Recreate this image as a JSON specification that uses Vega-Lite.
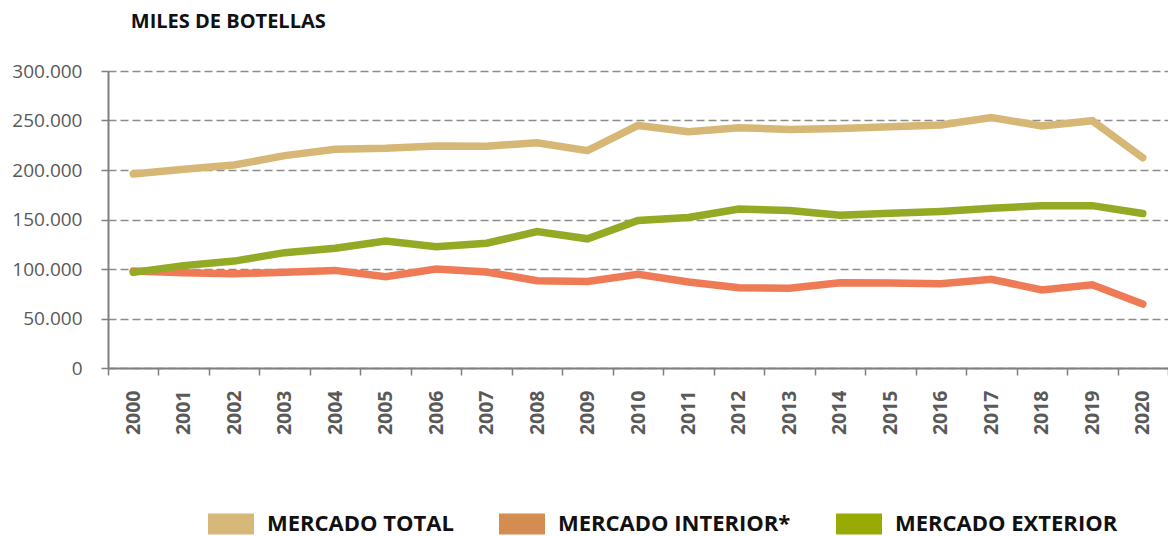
{
  "$schema": "https://vega.github.io/schema/vega-lite/v6.json",
  "width": 1060,
  "height": 297,
  "autosize": {"type": "none"},
  "padding": {"left": 108, "top": 71, "right": 0, "bottom": 168},
  "background": "white",
  "config": {
    "locale": {"number": {"decimal": ",", "thousands": ".", "grouping": [3], "currency": ["", " €"]}},
    "view": {"stroke": null},
    "font": "Open Sans"
  },
  "title": {
    "text": "MILES DE BOTELLAS",
    "anchor": "start",
    "dx": 119,
    "offset": 30,
    "font": "Open Sans",
    "fontSize": 20,
    "fontWeight": "bold",
    "color": "#111111"
  },
  "data": {
    "values": [
      {"year": "2000", "serie": "MERCADO TOTAL", "value": 196000},
      {"year": "2001", "serie": "MERCADO TOTAL", "value": 200700},
      {"year": "2002", "serie": "MERCADO TOTAL", "value": 205000},
      {"year": "2003", "serie": "MERCADO TOTAL", "value": 214500},
      {"year": "2004", "serie": "MERCADO TOTAL", "value": 220900},
      {"year": "2005", "serie": "MERCADO TOTAL", "value": 221900},
      {"year": "2006", "serie": "MERCADO TOTAL", "value": 224200},
      {"year": "2007", "serie": "MERCADO TOTAL", "value": 224000},
      {"year": "2008", "serie": "MERCADO TOTAL", "value": 227600},
      {"year": "2009", "serie": "MERCADO TOTAL", "value": 219500},
      {"year": "2010", "serie": "MERCADO TOTAL", "value": 245000},
      {"year": "2011", "serie": "MERCADO TOTAL", "value": 238700},
      {"year": "2012", "serie": "MERCADO TOTAL", "value": 242700},
      {"year": "2013", "serie": "MERCADO TOTAL", "value": 241000},
      {"year": "2014", "serie": "MERCADO TOTAL", "value": 242000},
      {"year": "2015", "serie": "MERCADO TOTAL", "value": 243800},
      {"year": "2016", "serie": "MERCADO TOTAL", "value": 245500},
      {"year": "2017", "serie": "MERCADO TOTAL", "value": 253000},
      {"year": "2018", "serie": "MERCADO TOTAL", "value": 244500},
      {"year": "2019", "serie": "MERCADO TOTAL", "value": 249800},
      {"year": "2020", "serie": "MERCADO TOTAL", "value": 212400},
      {"year": "2000", "serie": "MERCADO INTERIOR*", "value": 98000},
      {"year": "2001", "serie": "MERCADO INTERIOR*", "value": 96300},
      {"year": "2002", "serie": "MERCADO INTERIOR*", "value": 95300},
      {"year": "2003", "serie": "MERCADO INTERIOR*", "value": 96600},
      {"year": "2004", "serie": "MERCADO INTERIOR*", "value": 98600},
      {"year": "2005", "serie": "MERCADO INTERIOR*", "value": 92200},
      {"year": "2006", "serie": "MERCADO INTERIOR*", "value": 100000},
      {"year": "2007", "serie": "MERCADO INTERIOR*", "value": 97000},
      {"year": "2008", "serie": "MERCADO INTERIOR*", "value": 88200},
      {"year": "2009", "serie": "MERCADO INTERIOR*", "value": 87500},
      {"year": "2010", "serie": "MERCADO INTERIOR*", "value": 94600},
      {"year": "2011", "serie": "MERCADO INTERIOR*", "value": 86900},
      {"year": "2012", "serie": "MERCADO INTERIOR*", "value": 81100},
      {"year": "2013", "serie": "MERCADO INTERIOR*", "value": 80500},
      {"year": "2014", "serie": "MERCADO INTERIOR*", "value": 86200},
      {"year": "2015", "serie": "MERCADO INTERIOR*", "value": 85900},
      {"year": "2016", "serie": "MERCADO INTERIOR*", "value": 85200},
      {"year": "2017", "serie": "MERCADO INTERIOR*", "value": 89600},
      {"year": "2018", "serie": "MERCADO INTERIOR*", "value": 78800},
      {"year": "2019", "serie": "MERCADO INTERIOR*", "value": 84000},
      {"year": "2020", "serie": "MERCADO INTERIOR*", "value": 64600},
      {"year": "2000", "serie": "MERCADO EXTERIOR", "value": 96600},
      {"year": "2001", "serie": "MERCADO EXTERIOR", "value": 103400},
      {"year": "2002", "serie": "MERCADO EXTERIOR", "value": 108000},
      {"year": "2003", "serie": "MERCADO EXTERIOR", "value": 116500},
      {"year": "2004", "serie": "MERCADO EXTERIOR", "value": 121000},
      {"year": "2005", "serie": "MERCADO EXTERIOR", "value": 128300},
      {"year": "2006", "serie": "MERCADO EXTERIOR", "value": 122600},
      {"year": "2007", "serie": "MERCADO EXTERIOR", "value": 126000},
      {"year": "2008", "serie": "MERCADO EXTERIOR", "value": 137800},
      {"year": "2009", "serie": "MERCADO EXTERIOR", "value": 130500},
      {"year": "2010", "serie": "MERCADO EXTERIOR", "value": 149000},
      {"year": "2011", "serie": "MERCADO EXTERIOR", "value": 152000},
      {"year": "2012", "serie": "MERCADO EXTERIOR", "value": 160600},
      {"year": "2013", "serie": "MERCADO EXTERIOR", "value": 159000},
      {"year": "2014", "serie": "MERCADO EXTERIOR", "value": 154200},
      {"year": "2015", "serie": "MERCADO EXTERIOR", "value": 156200},
      {"year": "2016", "serie": "MERCADO EXTERIOR", "value": 158200},
      {"year": "2017", "serie": "MERCADO EXTERIOR", "value": 161300},
      {"year": "2018", "serie": "MERCADO EXTERIOR", "value": 164000},
      {"year": "2019", "serie": "MERCADO EXTERIOR", "value": 164000},
      {"year": "2020", "serie": "MERCADO EXTERIOR", "value": 156000}
    ]
  },
  "mark": {"type": "line", "strokeWidth": 7.5, "strokeCap": "round", "strokeJoin": "miter"},
  "encoding": {
    "x": {
      "field": "year",
      "type": "ordinal",
      "scale": {"type": "band", "paddingInner": 0, "paddingOuter": 0},
      "axis": {
        "title": null,
        "labelAngle": -90,
        "labelFont": "Open Sans",
        "labelFontSize": 19.5,
        "labelFontWeight": "bold",
        "labelColor": "#595959",
        "labelPadding": 15,
        "tickBand": "extent",
        "tickSize": 7,
        "tickColor": "#7f7f7f",
        "tickWidth": 1.5,
        "domainColor": "#7f7f7f",
        "domainWidth": 2,
        "grid": false
      }
    },
    "y": {
      "field": "value",
      "type": "quantitative",
      "scale": {"domain": [0, 300000], "nice": false},
      "axis": {
        "title": null,
        "values": [0, 50000, 100000, 150000, 200000, 250000, 300000],
        "format": ",d",
        "labelFont": "Open Sans",
        "labelFontSize": 19,
        "labelFontWeight": "normal",
        "labelColor": "#595959",
        "labelPadding": 19,
        "tickSize": 7,
        "tickColor": "#7f7f7f",
        "tickWidth": 1.5,
        "domainColor": "#7f7f7f",
        "domainWidth": 2,
        "grid": true,
        "gridColor": "#8c8c8c",
        "gridWidth": 1.5,
        "gridDash": [8, 4]
      }
    },
    "color": {
      "field": "serie",
      "type": "nominal",
      "sort": ["MERCADO TOTAL", "MERCADO INTERIOR*", "MERCADO EXTERIOR"],
      "scale": {
        "domain": ["MERCADO TOTAL", "MERCADO INTERIOR*", "MERCADO EXTERIOR"],
        "range": ["#D6B775", "#EE7B55", "#93AA24"]
      },
      "legend": {
        "title": null,
        "orient": "none",
        "direction": "horizontal",
        "legendX": 100,
        "legendY": 430,
        "symbolType": "M-1,-0.46L1,-0.46L1,0.46L-1,0.46Z",
        "symbolSize": 2116,
        "symbolStrokeWidth": 0,
        "labelFont": "Open Sans",
        "labelFontSize": 22,
        "labelFontWeight": "bold",
        "labelColor": "#111111",
        "labelOffset": 13,
        "labelLimit": 400,
        "columnPadding": 45,
        "encode": {
          "symbols": {
            "update": {
              "fill": {"signal": "datum.value == 'MERCADO INTERIOR*' ? '#D48C50' : datum.value == 'MERCADO EXTERIOR' ? '#97AB04' : '#D6B878'"},
              "stroke": {"value": "transparent"},
              "opacity": {"value": 1},
              "fillOpacity": {"value": 1}
            }
          }
        }
      }
    }
  }
}
